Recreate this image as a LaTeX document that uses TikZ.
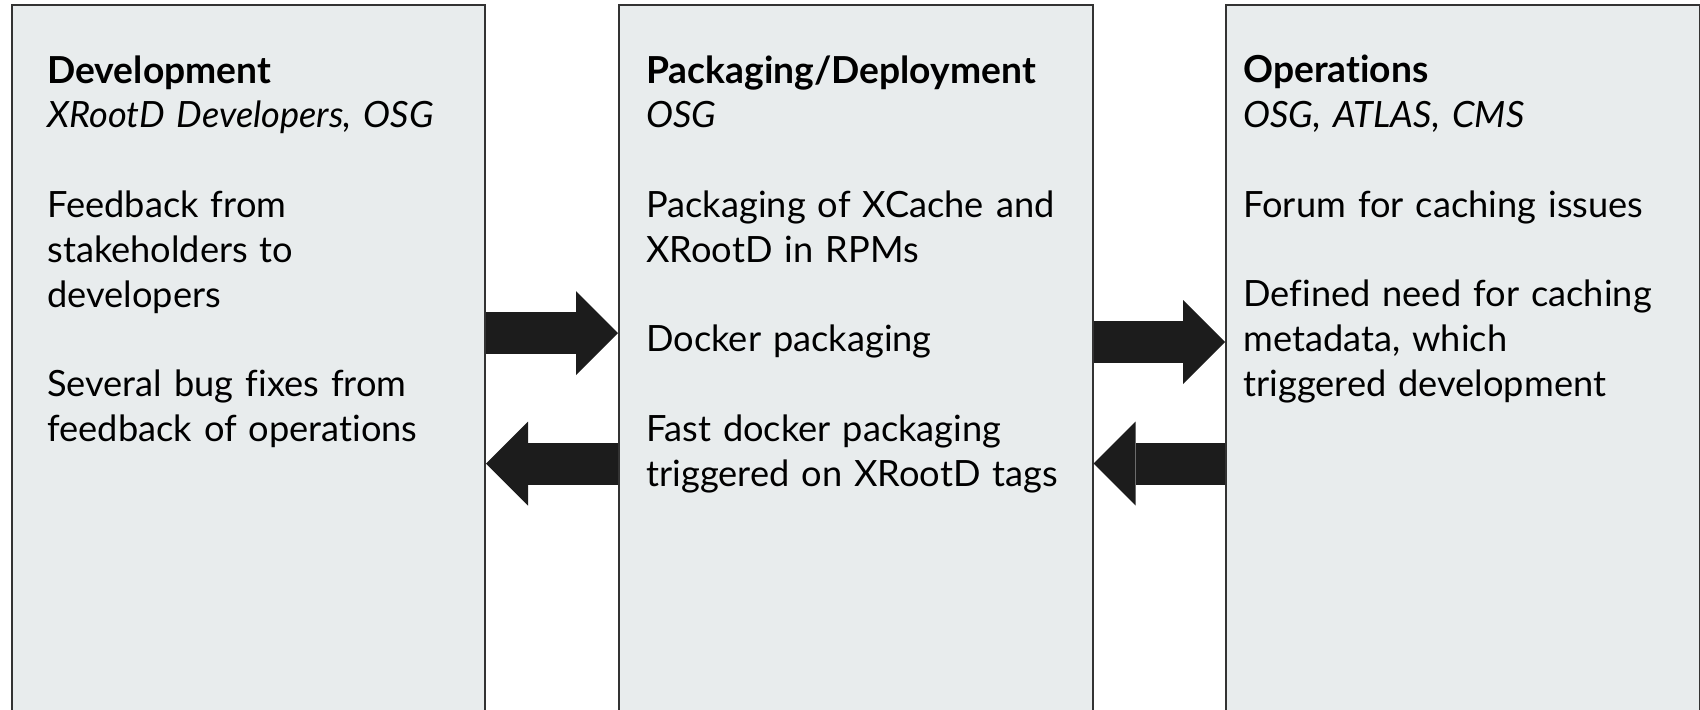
\documentclass[tikz,border=0pt]{standalone}
\usepackage{fontspec}
\setmainfont{Lato}[Ligatures=NoCommon]
\usetikzlibrary{arrows.meta, positioning}

\definecolor{boxfill}{RGB}{232,236,237}
\definecolor{boxline}{RGB}{51,51,51}
\definecolor{arrowfill}{RGB}{28,28,28}

\newcommand{\colhead}[1]{{\fontsize{18.6pt}{22.4pt}\selectfont\bfseries #1}}

\begin{document}
\begin{tikzpicture}[
        x=0.5pt, y=-0.5pt,
        box/.style={
            rectangle,
            draw=boxline,
            fill=boxfill,
            line width=1pt,
            minimum width=236.75pt,
            minimum height=380pt,
            inner sep=0pt,
            anchor=north west
        },
        txt/.style={
            anchor=north west,
            align=left,
            text width=230pt,
            inner sep=0pt,
            font=\fontsize{18.1pt}{22.4pt}\selectfont
        },
        arrow/.style={
            line width=21pt,
            draw=arrowfill,
            -{Triangle[length=21pt, width=42pt, line width=0pt, fill=arrowfill]}
        }
    ]
    \useasboundingbox (0,0) rectangle (1700,709);
    \clip (0,0) rectangle (1700,709);

    % Columns
    \node[box] (dev) at (10.5,4) {};
    \node[box] (pack) at (618,4) {};
    \node[box] (ops) at (1225,4) {};

    % Development
    \node[txt] (devtxt) at (47,55) {\colhead{Development}\\
        \textit{XRootD Developers, OSG}\\[22.4pt]
        Feedback from\\ stakeholders to\\ developers\\[22.4pt]
        Several bug fixes from\\ feedback of operations};

    % Packaging/Deployment
    \node[txt] (packtxt) at (646,55) {\colhead{Packaging/Deployment}\\
        \textit{OSG}\\[22.4pt]
        Packaging of XCache and\\ XRootD in RPMs\\[22.4pt]
        Docker packaging\\[22.4pt]
        Fast docker packaging\\ triggered on XRootD tags};

    % Operations
    \node[txt] (opstxt) at (1243,55) {\colhead{Operations}\\
        \textit{OSG, ATLAS, CMS}\\[22.4pt]
        Forum for caching issues\\[22.4pt]
        Defined need for caching\\ metadata, which\\ triggered development};

    % Arrow heights
    \coordinate (a1) at (0,333);
    \coordinate (a2) at (0,463.5);
    \coordinate (a3) at (0,342);
    \coordinate (a4) at (0,463.5);

    % Arrows
    \draw[arrow] (dev.east |- a1) -- (pack.west |- a1);
    \draw[arrow] (pack.west |- a2) -- (dev.east |- a2);
    \draw[arrow] (pack.east |- a3) -- (ops.west |- a3);
    \draw[arrow] (ops.west |- a4) -- (pack.east |- a4);

\end{tikzpicture}
\end{document}
